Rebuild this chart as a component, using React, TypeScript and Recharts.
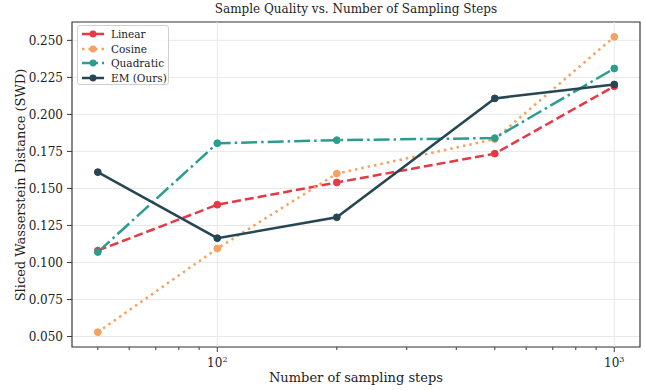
import React from 'react';
import { LineChart, Line, XAxis, YAxis, CartesianGrid, ReferenceLine, ReferenceArea } from 'recharts';

const steps = [50, 100, 200, 500, 1000];
const linear = [0.108, 0.139, 0.154, 0.1735, 0.219];
const cosine = [0.0529, 0.1094, 0.160, 0.1833, 0.2524];
const quadratic = [0.107, 0.1805, 0.1826, 0.184, 0.231];
const em = [0.161, 0.1164, 0.1305, 0.2108, 0.2202];

const seriesNames = ['Linear', 'Cosine', 'Quadratic', 'EM (Ours)'];
const seriesKeys = ['linear', 'cosine', 'quadratic', 'em'];
const seriesColors = ['#e63946', '#f4a261', '#2a9d8f', '#264653'];
const seriesDash = ['9 4', '2.5 4', '16 4 2.5 4', undefined];

const xMajorTicks = [100, 1000];
const xMinorTicks = [50, 60, 70, 80, 90, 200, 300, 400, 500, 600, 700, 800, 900];
const yTicks = [0.05, 0.075, 0.1, 0.125, 0.15, 0.175, 0.2, 0.225, 0.25];
const xDomain = [43.05, 1161];
const yDomain = [0.0429, 0.2624];

const data = steps.map((s, i) => ({
  step: s,
  linear: linear[i],
  cosine: cosine[i],
  quadratic: quadratic[i],
  em: em[i],
}));

const FONT = '"DejaVu Serif", serif';
const TEXT = '#222';
const AXIS = '#3a3a3a';

const XTick = (props: any) => {
  const { x, y, payload } = props;
  const v = payload.value;
  const major = xMajorTicks.includes(v);
  const len = major ? 5 : 3;
  const exp = Math.round(Math.log10(v));
  return (
    <g>
      <line x1={x} x2={x} y1={y} y2={y + len} stroke={AXIS} strokeWidth={1} />
      {major && (
        <text x={x} y={y + len + 15} textAnchor="middle" fontFamily={FONT} fontSize={12} fill={TEXT}>
          10<tspan dy={-5} fontSize={8}>{exp}</tspan>
        </text>
      )}
    </g>
  );
};

const Legend = () => (
  <div
    style={{
      position: 'absolute',
      left: 77,
      top: 25,
      width: 92,
      height: 60,
      boxSizing: 'border-box',
      border: '1px solid #d0d0d0',
      borderRadius: 3,
      background: 'rgba(255,255,255,0.85)',
      fontFamily: FONT,
      fontSize: 10.5,
      color: TEXT,
    }}
  >
    {seriesNames.map((n, i) => (
      <div key={n} style={{ position: 'absolute', left: 0, top: 1 + i * 14.5, height: 14, display: 'flex', alignItems: 'center' }}>
        <svg width={31} height={14} style={{ display: 'block' }}>
          <line x1={4} x2={26} y1={7} y2={7} stroke={seriesColors[i]} strokeWidth={2.5} strokeDasharray={seriesDash[i]} />
          <circle cx={15} cy={7} r={3.4} fill={seriesColors[i]} />
        </svg>
        <span style={{ marginLeft: 2, lineHeight: '14px', whiteSpace: 'nowrap' }}>{n}</span>
      </div>
    ))}
  </div>
);

export default function App() {
  return (
    <div style={{ position: 'absolute', left: 0, top: 0, width: 645, height: 390, background: '#fff' }}>
      <LineChart width={645} height={390} data={data} margin={{ top: 22, right: 5, bottom: 13, left: 12 }}>
        <CartesianGrid vertical={false} stroke="#e8e8e8" strokeWidth={1} />
        {xMajorTicks.map((t) => (
          <ReferenceLine key={t} x={t} stroke="#e8e8e8" strokeWidth={1} />
        ))}
        <XAxis
          dataKey="step"
          type="number"
          scale="log"
          domain={xDomain}
          allowDataOverflow
          ticks={[...xMinorTicks, ...xMajorTicks].sort((a, b) => a - b)}
          interval={0}
          tick={<XTick />}
          tickLine={false}
          tickSize={0}
          tickMargin={0}
          axisLine={false}
          height={30}
        />
        <YAxis
          type="number"
          domain={yDomain}
          allowDataOverflow
          ticks={yTicks}
          interval={0}
          tickFormatter={(v: number) => v.toFixed(3)}
          tick={{ fontFamily: FONT, fontSize: 12, fill: TEXT }}
          tickLine={{ stroke: AXIS }}
          tickSize={5}
          tickMargin={4}
          axisLine={false}
          width={60}
        />
        <ReferenceArea
          x1={xDomain[0]}
          x2={xDomain[1]}
          y1={yDomain[0]}
          y2={yDomain[1]}
          fill="none"
          fillOpacity={0}
          stroke={AXIS}
          strokeWidth={1.2}
          ifOverflow="visible"
        />
        {seriesKeys.map((k, i) => (
          <Line
            key={k}
            dataKey={k}
            name={seriesNames[i]}
            type="linear"
            stroke={seriesColors[i]}
            strokeWidth={2.5}
            strokeDasharray={seriesDash[i]}
            dot={{ r: 3.4, fill: seriesColors[i], stroke: seriesColors[i], strokeWidth: 1, strokeDasharray: '' }}
            activeDot={false}
            isAnimationActive={false}
          />
        ))}
      </LineChart>
      <div
        style={{
          position: 'absolute',
          left: 72,
          width: 568,
          top: 2,
          textAlign: 'center',
          fontFamily: FONT,
          fontSize: 12,
          color: TEXT,
          whiteSpace: 'nowrap',
        }}
      >
        Sample Quality vs. Number of Sampling Steps
      </div>
      <div
        style={{
          position: 'absolute',
          left: 72,
          width: 568,
          top: 370,
          textAlign: 'center',
          fontFamily: FONT,
          fontSize: 13,
          color: TEXT,
          whiteSpace: 'nowrap',
        }}
      >
        Number of sampling steps
      </div>
      <div
        style={{
          position: 'absolute',
          left: 20,
          top: 184.5,
          transform: 'translate(-50%, -50%) rotate(-90deg)',
          fontFamily: FONT,
          fontSize: 13,
          color: TEXT,
          whiteSpace: 'nowrap',
        }}
      >
        Sliced Wasserstein Distance (SWD)
      </div>
      <Legend />
    </div>
  );
}
